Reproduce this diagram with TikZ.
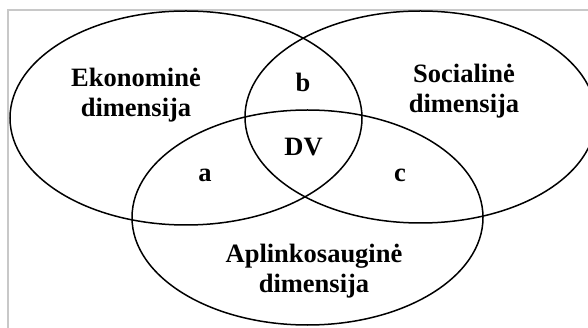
\documentclass[tikz,border=0pt]{standalone}
\usepackage{fontspec}
\setmainfont{Liberation Serif}
\definecolor{framegray}{RGB}{200,200,200}
\begin{document}
\begin{tikzpicture}[x=1pt,y=-1pt,
  dim/.style={font=\bfseries\fontsize{26.5}{29.5}\selectfont,align=center},
  ring/.style={line width=1.5pt}]
\useasboundingbox (0,0) rectangle (588,328);
\draw[framegray,line width=1.5pt] (8,328) -- (8,10) -- (588,10);
\draw[ring] (186,118) ellipse [x radius=176,y radius=107];
\draw[ring] (420.5,117) ellipse [x radius=175.5,y radius=106];
\draw[ring] (307.5,217.5) ellipse [x radius=175.5,y radius=107.5];
\node[dim] (eko) at (136,95) {Ekonominė\\dimensija};
\node[dim] (soc) at (464,91) {Socialinė\\dimensija};
\node[dim] (apl) at (314,271) {Aplinkosauginė\\dimensija};
\node[dim] (b) at (303,82) {b};
\node[dim] (dv) at (303.5,147) {DV};
\node[dim] (a) at (205,175) {a};
\node[dim] (c) at (400,175) {c};
\end{tikzpicture}
\end{document}
